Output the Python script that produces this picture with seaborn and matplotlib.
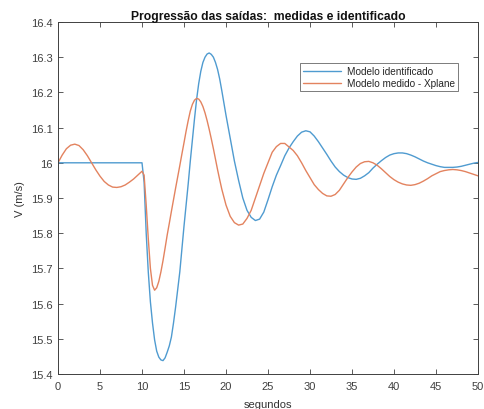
import numpy as np
import pandas as pd
import matplotlib
matplotlib.use("Agg")
import matplotlib.pyplot as plt
import seaborn as sns
from matplotlib.ticker import FuncFormatter

# Time samples (s): finer spacing around the step response
tempo = [0.0, 0.5, 1.0, 1.5, 2.0, 2.5, 3.0, 3.5, 4.0, 4.5, 5.0, 5.5, 6.0, 6.5, 7.0, 7.5,
         8.0, 8.5, 9.0, 9.5, 10.0,
         10.25, 10.5, 10.75, 11.0, 11.25, 11.5, 11.75, 12.0, 12.25, 12.5, 12.75, 13.0,
         13.25, 13.5, 13.75, 14.0, 14.25, 14.5, 14.75, 15.0, 15.25, 15.5, 15.75, 16.0,
         16.25, 16.5, 16.75, 17.0, 17.25, 17.5, 17.75, 18.0, 18.25, 18.5, 18.75, 19.0,
         19.25, 19.5,
         20.0, 20.5, 21.0, 21.5, 22.0, 22.5, 23.0, 23.5, 24.0, 24.5, 25.0, 25.5, 26.0,
         26.5, 27.0, 27.5, 28.0, 28.5, 29.0, 29.5, 30.0, 30.5, 31.0, 31.5, 32.0, 32.5,
         33.0, 33.5, 34.0, 34.5, 35.0, 35.5, 36.0, 36.5, 37.0, 37.5, 38.0, 38.5, 39.0,
         39.5, 40.0, 40.5, 41.0, 41.5, 42.0, 42.5, 43.0, 43.5, 44.0, 44.5, 45.0, 45.5,
         46.0, 46.5, 47.0, 47.5, 48.0, 48.5, 49.0, 49.5, 50.0]

# Identified model output V (m/s)
v_identificado = [16.000, 16.000, 16.000, 16.000, 16.000, 16.000, 16.000, 16.000, 16.000,
                  16.000, 16.000, 16.000, 16.000, 16.000, 16.000, 16.000, 16.000, 16.000,
                  16.000, 16.000, 16.000,
                  15.945, 15.800, 15.689, 15.605, 15.545, 15.497, 15.465, 15.448, 15.440,
                  15.438, 15.446, 15.462, 15.480, 15.505, 15.545, 15.590, 15.640, 15.690,
                  15.755, 15.820, 15.880, 15.940, 16.005, 16.065, 16.125, 16.180, 16.225,
                  16.260, 16.285, 16.300, 16.309, 16.312, 16.308, 16.300, 16.285, 16.265,
                  16.238, 16.205,
                  16.135, 16.070, 16.005, 15.950, 15.900, 15.865, 15.845, 15.836, 15.840,
                  15.860, 15.895, 15.932, 15.965, 15.992, 16.020, 16.042, 16.060, 16.076,
                  16.087, 16.091, 16.088, 16.076, 16.060, 16.042, 16.024, 16.005, 15.988,
                  15.975, 15.965, 15.958, 15.954, 15.953, 15.956, 15.963, 15.972, 15.985,
                  15.996, 16.006, 16.015, 16.022, 16.026, 16.028, 16.028, 16.026, 16.022,
                  16.017, 16.011, 16.005, 16.000, 15.996, 15.992, 15.989, 15.987, 15.987,
                  15.987, 15.988, 15.990, 15.993, 15.996, 15.999, 16.001]

# Measured output from X-Plane V (m/s)
v_medido = [16.000, 16.022, 16.040, 16.050, 16.053, 16.049, 16.037, 16.020, 16.000, 15.980,
            15.962, 15.947, 15.937, 15.931, 15.930, 15.932, 15.937, 15.945, 15.954, 15.965,
            15.976,
            15.965, 15.880, 15.784, 15.700, 15.652, 15.638, 15.645, 15.663, 15.690, 15.722,
            15.758, 15.795, 15.828, 15.862, 15.895, 15.928, 15.960, 15.992, 16.025, 16.057,
            16.090, 16.120, 16.147, 16.166, 16.178, 16.183, 16.181, 16.173, 16.160, 16.142,
            16.120, 16.095, 16.068, 16.040, 16.010, 15.980, 15.952, 15.925,
            15.880, 15.848, 15.830, 15.823, 15.826, 15.842, 15.865, 15.900, 15.935, 15.970,
            16.000, 16.030, 16.046, 16.055, 16.055, 16.045, 16.035, 16.020, 16.000, 15.978,
            15.958, 15.938, 15.924, 15.913, 15.906, 15.905, 15.910, 15.922, 15.940, 15.958,
            15.974, 15.988, 15.998, 16.003, 16.004, 16.000, 15.993, 15.983, 15.972, 15.961,
            15.952, 15.945, 15.940, 15.937, 15.936, 15.938, 15.942, 15.948, 15.955, 15.963,
            15.969, 15.975, 15.978, 15.980, 15.981, 15.980, 15.978, 15.975, 15.971, 15.967,
            15.963]

series_names = ["Modelo identificado", "Modelo medido - Xplane"]
series_colors = ["#4f9bd0", "#e3835f"]

x_ticks = [0, 5, 10, 15, 20, 25, 30, 35, 40, 45, 50]
y_ticks = [15.4, 15.5, 15.6, 15.7, 15.8, 15.9, 16.0, 16.1, 16.2, 16.3, 16.4]

df = pd.DataFrame({
    "t": tempo * 2,
    "V": v_identificado + v_medido,
    "modelo": [series_names[0]] * len(tempo) + [series_names[1]] * len(tempo),
})

sns.set_theme(style="white")
plt.rcParams["font.family"] = ["Liberation Sans", "DejaVu Sans"]

fig = plt.figure(figsize=(4.85, 4.10), dpi=100)
ax = fig.add_axes([58 / 485, 1 - 375 / 410, 420 / 485, 352 / 410])

sns.lineplot(data=df, x="t", y="V", hue="modelo", hue_order=series_names,
             palette=series_colors, linewidth=1.0, ax=ax, sort=False)

ax.set_xlim(0, 50)
ax.set_ylim(15.4, 16.4)
ax.set_xticks(x_ticks)
ax.set_yticks(y_ticks)
ax.yaxis.set_major_formatter(FuncFormatter(lambda v, p: f"{v:g}"))
ax.tick_params(direction="in", length=3.5, width=0.6, colors="#404040",
               labelsize=8, top=True, right=True, bottom=True, left=True,
               labelcolor="#404040")
ax.tick_params(axis="x", pad=5)
ax.tick_params(axis="y", pad=4)
for sp in ax.spines.values():
    sp.set_color("#404040")
    sp.set_linewidth(0.7)

ax.set_title("Progressão das saídas:  medidas e identificado", fontsize=8.7,
             fontweight="bold", color="#111111", pad=2)
ax.set_xlabel("segundos", fontsize=8, color="#333333", labelpad=6)
ax.set_ylabel("V (m/s)", fontsize=8, color="#333333", labelpad=4)

leg = ax.legend(loc="upper left", bbox_to_anchor=((300 - 58) / 420, (375 - 64) / 352),
                fontsize=7.2, frameon=True, fancybox=False, handlelength=3.8,
                borderpad=0.3, labelspacing=0.2, handletextpad=0.6,
                borderaxespad=0)
leg.get_frame().set_edgecolor("#404040")
leg.get_frame().set_linewidth(0.6)

fig.savefig("out.png", dpi=100, facecolor="white")
